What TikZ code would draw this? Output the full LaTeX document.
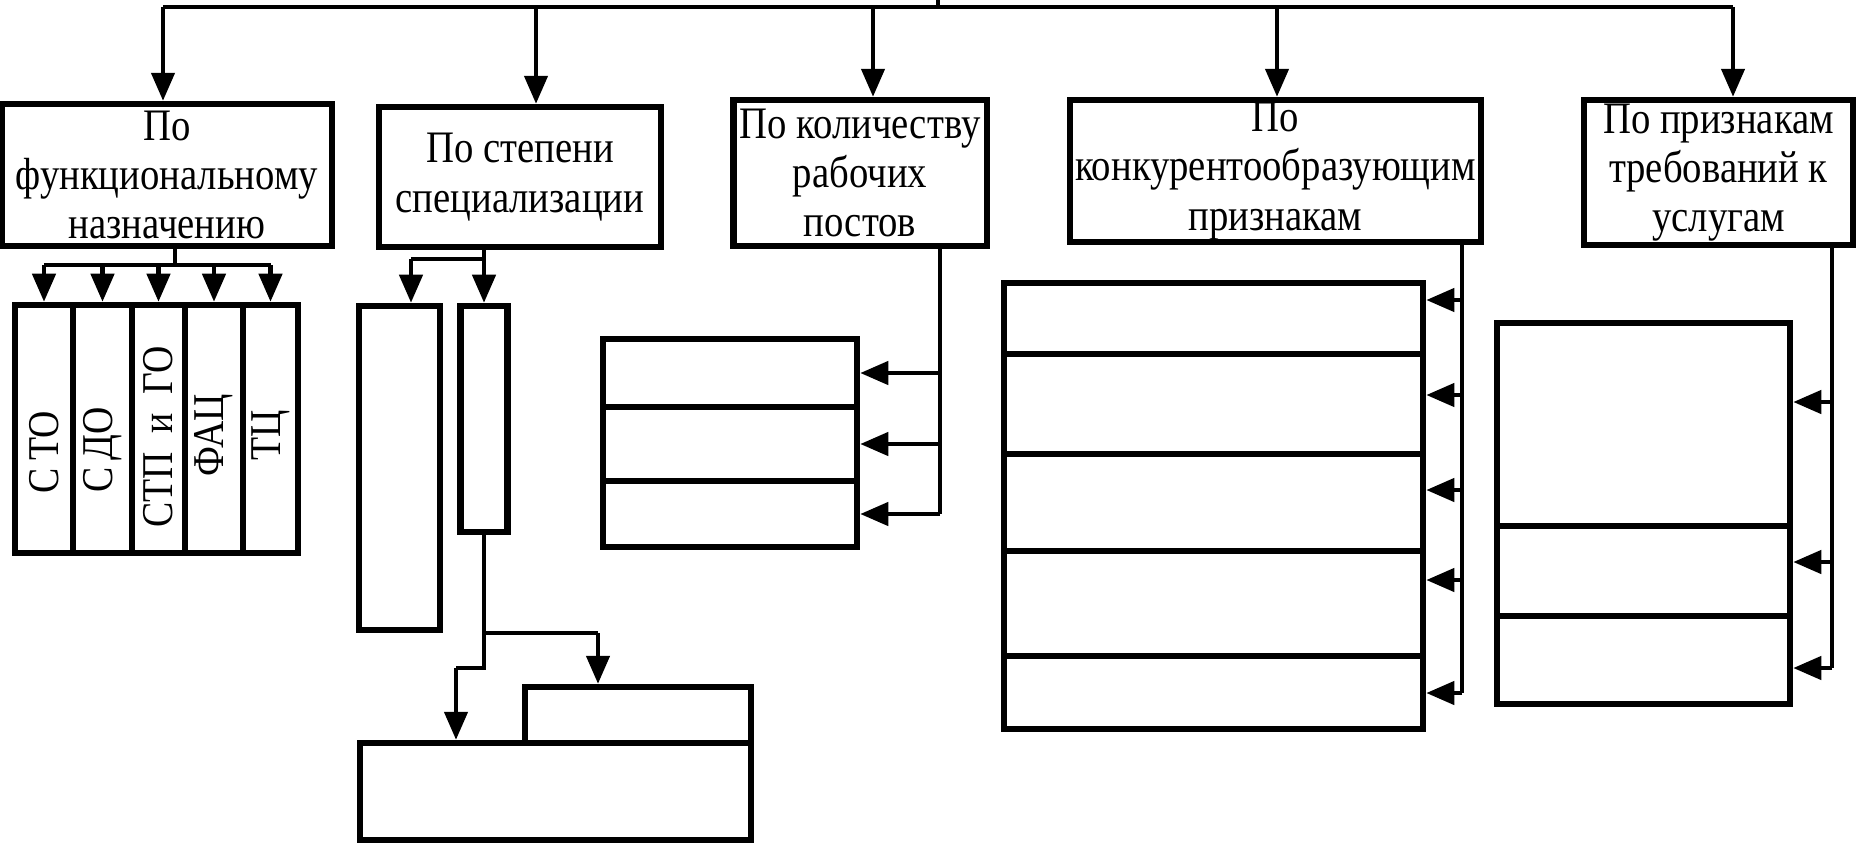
\documentclass[tikz,border=0pt]{standalone}
\usepackage{fontspec}
\setmainfont{Liberation Serif}[FakeStretch=0.86]
\usepackage{tikz}
\usetikzlibrary{calc,arrows.meta}
\tikzset{
  frame/.style={draw, line width=1.75pt, rectangle, inner sep=0pt, align=center,
    font=\fontsize{12.8}{14}\selectfont},
  cell/.style={draw, line width=1.75pt, rectangle, inner sep=0pt},
  link/.style={line width=1.4pt},
  arr/.style={link, -{Triangle[length=8pt,width=6.5pt]}},
  vlab/.style={rotate=90, inner sep=0pt, font=\fontsize{12.5}{13}\selectfont},
}

\begin{document}
\begin{tikzpicture}[x=0.01cm, y=-0.01cm]
  \useasboundingbox (0,0) rectangle (1858,842);

  % upper row
  \node[frame, minimum width=3.30cm, minimum height=1.42cm] (b1) at (167,175)
    {По\\функциональному\\назначению};
  \node[frame, minimum width=2.82cm, minimum height=1.40cm] (b2) at (520,177)
    {По степени\\специализации};
  \node[frame, minimum width=2.53cm, minimum height=1.46cm] (b3) at (860,173)
    {По количеству\\рабочих\\постов};
  \node[frame, minimum width=4.11cm, minimum height=1.42cm] (b4) at (1275.5,171)
    {По\\конкурентообразующим\\признакам};
  \node[frame, minimum width=2.69cm, minimum height=1.45cm] (b5) at (1718.5,172.5)
    {По признакам\\требований к\\услугам};

  % columns under b1
  \foreach \n/\x/\w/\dy/\t in {1/44/0.58/23/С\,ТО, 2/102.5/0.59/21/С\,ДО,
      3/158.5/0.53/8/СТП~~и~~ГО, 4/214/0.58/6/ФАЦ, 5/270.5/0.55/6/ТЦ}{
    \node[cell, minimum width=\w cm, minimum height=2.48cm] (c\n) at (\x,429) {};
    \node[vlab] (l\n) at ($(c\n.center)+(0,\dy)$) {\t};
  }

  % boxes under b2
  \node[cell, minimum width=0.81cm, minimum height=3.24cm] (s21) at (399.5,468) {};
  \node[cell, minimum width=0.47cm, minimum height=2.26cm] (s22) at (484,419) {};
  \node[cell, minimum width=2.26cm, minimum height=0.56cm] (s23) at (638,715) {};
  \node[cell, minimum width=3.91cm, minimum height=0.97cm] (s24) at (555.5,791.5) {};

  % stacks under b3, b4, b5
  \foreach \n/\y/\h in {1/373/0.68, 2/444/0.74, 3/514/0.66}
    \node[cell, minimum width=2.54cm, minimum height=\h cm] (s3\n) at (730,\y) {};
  \foreach \n/\y/\h in {1/318.5/0.71, 2/404/1.00, 3/502.5/0.97, 4/603.5/1.05, 5/692.5/0.73}
    \node[cell, minimum width=4.19cm, minimum height=\h cm] (s4\n) at (1213.5,\y) {};
  \foreach \n/\y/\h in {1/424.5/2.03, 2/571/0.90, 3/660/0.88}
    \node[cell, minimum width=2.93cm, minimum height=\h cm] (s5\n) at (1643.5,\y) {};

  % top bus
  \coordinate (root) at (938,0);
  \foreach \n/\x in {1/163, 2/536, 3/873, 4/1277, 5/1733}
    \coordinate (d\n) at (\x,7);
  \draw[link] (d1) -- (d5);
  \draw[link] (root) -- (root |- d1);
  \foreach \n in {1,...,5}
    \draw[arr] (d\n) -- (d\n |- b\n.north);

  % b1 -> columns
  \coordinate (j1) at (175,265);
  \draw[link] (b1.south -| j1) -- (j1);
  \draw[link] (j1 -| c1.north) -- (j1 -| c5.north);
  \foreach \n in {1,...,5}
    \draw[arr] (j1 -| c\n.north) -- (c\n.north);

  % b2 -> s21, s22 -> s23, s24
  \coordinate (j2) at (484,259);
  \coordinate (j2a) at (411,259);
  \draw[link] (b2.south -| j2) -- (j2) -- (j2a);
  \draw[arr] (j2) -- (s22.north);
  \draw[arr] (j2a) -- (j2a |- s21.north);
  \coordinate (j3) at (598,633);
  \coordinate (j4) at (456,668);
  \draw[link] (s22.south) |- (j3);
  \draw[link] (s22.south) |- (j4);
  \draw[arr] (j3) -- (j3 |- s23.north);
  \draw[arr] (j4) -- (j4 |- s24.north);

  % b3 -> stack
  \coordinate (k3) at (940,0);
  \draw[link] (k3 |- b3.south) -- (k3 |- s33.east);
  \foreach \s in {s31,s32,s33}
    \draw[arr] (k3 |- \s.east) -- (\s.east);

  % b4 -> stack
  \coordinate (k4) at (1462,0);
  \coordinate (k4e) at (1462,693);
  \draw[link] (k4 |- b4.south) -- (k4e);
  \foreach \y/\s in {300/s41, 395/s42, 490/s43, 580/s44, 693/s45}{
    \coordinate (p) at (1462,\y);
    \draw[arr] (p) -- (p -| \s.east);
  }

  % b5 -> stack
  \coordinate (k5) at (1832,0);
  \coordinate (k5e) at (1832,668);
  \draw[link] (k5 |- b5.south) -- (k5e);
  \foreach \y/\s in {402/s51, 562/s52, 668/s53}{
    \coordinate (q) at (1832,\y);
    \draw[arr] (q) -- (q -| \s.east);
  }
\end{tikzpicture}
\end{document}
